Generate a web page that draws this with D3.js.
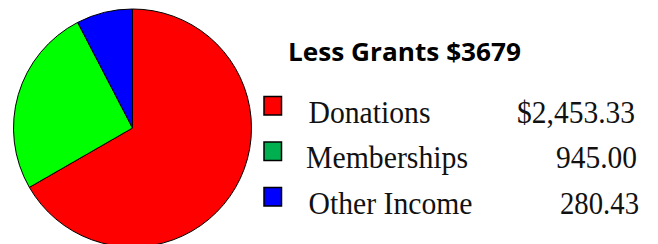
<!DOCTYPE html>
<html>
<head>
<meta charset="utf-8">
<script src="https://cdn.jsdelivr.net/npm/d3@7"></script>
<style>
  body { margin: 0; background: #fff; }
  svg { display: block; }
</style>
</head>
<body>
<svg id="canvas"></svg>
<script>
const title = "Less Grants $3679";
const categories = ["Donations", "Memberships", "Other Income"];
const amounts = [2453.33, 945.00, 280.43];
const amountLabels = ["$2,453.33", "945.00", "280.43"];
const sliceColors = ["#ff0000", "#00ff00", "#0000ff"];
const legendColors = ["#ff0000", "#00b050", "#0000ff"];

const width = 658;
const height = 244;

const svg = d3.select("#canvas")
    .attr("width", width)
    .attr("height", height);

// pie
const radius = 119;
const pie = d3.pie().sort(null).value(d => d);
const arc = d3.arc().innerRadius(0).outerRadius(radius);

svg.append("g")
    .attr("transform", "translate(132.5,128)")
    .selectAll("path")
    .data(pie(amounts))
    .enter()
    .append("path")
    .attr("d", arc)
    .attr("fill", (d, i) => sliceColors[i])
    .attr("stroke", "#000")
    .attr("stroke-width", 1);

// title
svg.append("text")
    .attr("x", 288)
    .attr("y", 61)
    .attr("textLength", 233)
    .attr("lengthAdjust", "spacingAndGlyphs")
    .style("font-family", "'Open Sans', sans-serif")
    .style("font-weight", "bold")
    .style("font-size", "25px")
    .text(title);

// legend
const rowY = d3.scalePoint()
    .domain(categories)
    .range([122.5, 213.5]);

const labelWidths = [122, 162, 164];
const valueStarts = [517, 556, 560];
const valueWidths = [118, 81, 79];

const rows = svg.append("g")
    .selectAll("g")
    .data(categories)
    .enter()
    .append("g");

rows.append("rect")
    .attr("x", 264)
    .attr("y", d => rowY(d) - 26)
    .attr("width", 17.5)
    .attr("height", 18.5)
    .attr("fill", (d, i) => legendColors[i])
    .attr("stroke", "#000")
    .attr("stroke-width", 1.5);

rows.append("text")
    .attr("x", (d, i) => i === 1 ? 306 : 308.5)
    .attr("y", d => rowY(d))
    .attr("textLength", (d, i) => labelWidths[i])
    .attr("lengthAdjust", "spacingAndGlyphs")
    .style("font-family", "'Liberation Serif', serif")
    .style("font-size", "31px")
    .style("fill", "#111")
    .text(d => d);

rows.append("text")
    .attr("x", (d, i) => valueStarts[i])
    .attr("y", d => rowY(d))
    .attr("textLength", (d, i) => valueWidths[i])
    .attr("lengthAdjust", "spacingAndGlyphs")
    .style("font-family", "'Liberation Serif', serif")
    .style("font-size", "31px")
    .style("fill", "#111")
    .text((d, i) => amountLabels[i]);
</script>
</body>
</html>
